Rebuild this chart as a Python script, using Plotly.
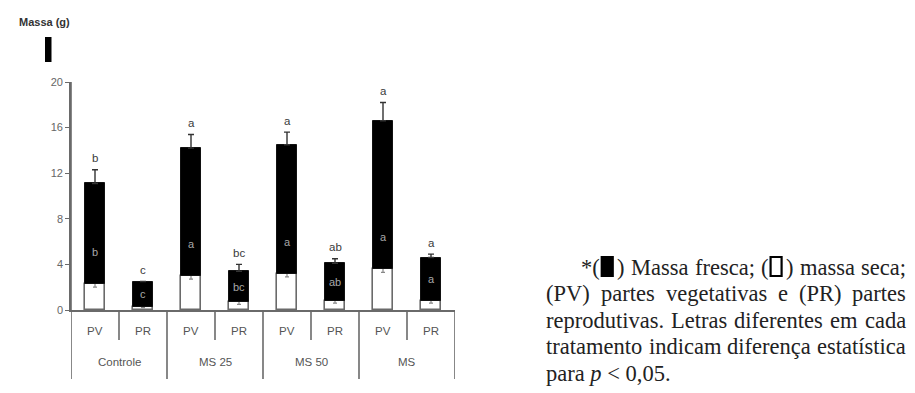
import plotly.graph_objects as go

# Treatments and plant parts
groups = ["Controle", "MS 25", "MS 50", "MS"]
parts = ["PV", "PR"]

# Fresh mass (g) and its standard error, per treatment x part
fresh = [11.1, 2.5, 14.2, 3.4, 14.5, 4.1, 16.6, 4.6]
fresh_err = [1.2, 0.0, 1.2, 0.6, 1.1, 0.4, 1.6, 0.3]
# Dry mass (g) and its standard error
dry = [2.3, 0.3, 3.0, 0.7, 3.2, 0.8, 3.6, 0.8]
dry_err = [0.3, 0.1, 0.3, 0.2, 0.3, 0.2, 0.3, 0.2]
# Significance letters (fresh above the bar, dry inside the black segment)
fresh_letters = ["b", "c", "a", "bc", "a", "ab", "a", "a"]
dry_letters = ["b", "c", "a", "bc", "a", "ab", "a", "a"]

y_ticks = [0, 4, 8, 12, 16, 20]

W_FIG, H_FIG = 915, 393
PX0, PX1 = 71, 455      # plot area, horizontal pixels
PY1, PY0 = 82, 310      # plot area, vertical pixels (top, bottom)

AX = "#6a6a6a"
TXT = "#555555"
SANS = "Liberation Sans"
SERIF = "Liberation Serif"


def px_x(px):
    return (px - PX0) / (PX1 - PX0)


def px_y(py):
    return (PY0 - py) / (PY0 - PY1)


n = len(fresh)
xs = list(range(n))

fig = go.Figure()

# dry mass: white bars from zero
fig.add_trace(go.Bar(
    x=xs, y=dry, width=0.42,
    marker=dict(color="white", line=dict(color=AX, width=1.6)),
    error_y=dict(type="data", array=dry_err, color="#888", thickness=1.2, width=2),
    showlegend=False, hoverinfo="skip",
))

# fresh mass: black segment standing on the dry bar, top at the fresh value
fig.add_trace(go.Bar(
    x=xs, y=[f - d for f, d in zip(fresh, dry)], base=dry, width=0.42,
    marker=dict(color="black", line=dict(color="#111", width=1)),
    error_y=dict(type="data", array=fresh_err, arrayminus=[0] * n, symmetric=False,
                 color="#333", thickness=1.4, width=3),
    showlegend=False, hoverinfo="skip",
))

annotations = []
for i in xs:
    annotations.append(dict(
        x=i, y=fresh[i] + fresh_err[i] + 1.0, xref="x", yref="y",
        text=fresh_letters[i], showarrow=False, yanchor="middle",
        font=dict(family=SANS, size=11.5, color="#3a3a3a"),
    ))
    inner_y = min(dry[i] + 2.8, (dry[i] + fresh[i]) / 2)
    annotations.append(dict(
        x=i, y=inner_y, xref="x", yref="y",
        text=dry_letters[i], showarrow=False, yanchor="middle",
        font=dict(family=SANS, size=11, color="#a8a8a8"),
    ))

# category table under the x axis
shapes = []
row1_bottom = px_y(340)
row2_bottom = px_y(379)
for k in range(n + 1):
    xb = k - 0.5
    if k % 2 == 0:
        y0 = row2_bottom
        y1 = 1 if k == 0 else 0
    else:
        y0 = row1_bottom
        y1 = 0
    shapes.append(dict(type="line", xref="x", yref="paper", x0=xb, x1=xb,
                       y0=y0, y1=y1, line=dict(color=AX, width=1.6)))

for i in xs:
    annotations.append(dict(
        x=i, y=px_y(331), xref="x", yref="paper", text=parts[i % 2],
        showarrow=False, yanchor="middle",
        font=dict(family=SANS, size=11.5, color=TXT),
    ))
for g, name in enumerate(groups):
    annotations.append(dict(
        x=2 * g + 0.5, y=px_y(362), xref="x", yref="paper", text=name,
        showarrow=False, yanchor="middle",
        font=dict(family=SANS, size=11.5, color=TXT),
    ))

# axis title and its key mark
annotations.append(dict(
    x=px_x(44), y=px_y(22), xref="paper", yref="paper", text="<b>Massa (g)</b>",
    showarrow=False, xanchor="center", yanchor="middle",
    font=dict(family=SANS, size=11, color="#333"),
))
shapes.append(dict(type="rect", xref="paper", yref="paper",
                   x0=px_x(45), x1=px_x(51.5), y0=px_y(62), y1=px_y(37),
                   fillcolor="black", line=dict(width=0)))

# caption on the right, justified like a printed paragraph
TIMES_W = {
    " ": 250, "(": 333, ")": 333, "*": 500, ",": 250, ".": 250, ";": 278,
    "<": 564, "0": 500, "5": 500, "L": 611, "M": 889, "P": 556, "R": 667,
    "V": 722, "a": 444, "b": 500, "c": 444, "d": 500, "e": 444, "f": 333,
    "g": 500, "h": 500, "i": 278, "l": 278, "m": 778, "n": 500, "o": 500,
    "p": 500, "r": 333, "s": 389, "t": 278, "u": 500, "v": 500, "ç": 444,
    "í": 278,
}
CAP_SIZE = 22.5
BOX_W = 11
BOX_PAD = 3


def text_w(s):
    return sum(TIMES_W.get(ch, 500) for ch in s) * CAP_SIZE / 1000


def part_w(p):
    kind, val = p
    return BOX_W + 2 * BOX_PAD if kind == "box" else text_w(val)


caption_lines = [
    [[("t", "*("), ("box", "black"), ("t", ")")], [("t", "Massa")], [("t", "fresca;")],
     [("t", "("), ("box", "white"), ("t", ")")], [("t", "massa")], [("t", "seca;")]],
    [[("t", w)] for w in "(PV) partes vegetativas e (PR) partes".split()],
    [[("t", w)] for w in "reprodutivas. Letras diferentes em cada".split()],
    [[("t", w)] for w in "tratamento indicam diferença estatística".split()],
]
line_start = [580, 545, 545, 545]
line_end = 905
line_y = [267, 293.5, 320, 346.5, 373]

for li, words in enumerate(caption_lines):
    widths = [sum(part_w(p) for p in w) for w in words]
    gap = (line_end - line_start[li] - sum(widths)) / (len(words) - 1)
    xcur = line_start[li]
    for w, ww in zip(words, widths):
        xp = xcur
        for kind, val in w:
            if kind == "box":
                shapes.append(dict(
                    type="rect", xref="paper", yref="paper",
                    x0=px_x(xp + BOX_PAD), x1=px_x(xp + BOX_PAD + BOX_W),
                    y0=px_y(line_y[li] + 9), y1=px_y(line_y[li] - 10),
                    fillcolor=val, line=dict(color="black", width=2.2)))
                xp += BOX_W + 2 * BOX_PAD
            else:
                annotations.append(dict(
                    x=px_x(xp), y=px_y(line_y[li]), xref="paper", yref="paper",
                    text=val, showarrow=False, xanchor="left", yanchor="middle",
                    borderpad=0, font=dict(family=SERIF, size=CAP_SIZE, color="#222"),
                ))
                xp += text_w(val)
        xcur += ww + gap

annotations.append(dict(
    x=px_x(545), y=px_y(line_y[4]), xref="paper", yref="paper",
    text="para <i>p</i> &lt; 0,05.", showarrow=False, xanchor="left", yanchor="middle",
    borderpad=0, font=dict(family=SERIF, size=CAP_SIZE, color="#222"),
))

fig.update_layout(
    width=W_FIG, height=H_FIG,
    margin=dict(l=PX0, r=W_FIG - PX1, t=PY1, b=H_FIG - PY0, pad=0),
    paper_bgcolor="white", plot_bgcolor="white",
    barmode="overlay", bargap=0,
    font=dict(family=SANS, color=TXT),
    xaxis=dict(range=[-0.5, n - 0.5], showline=True, linecolor=AX, linewidth=1.6,
               showticklabels=False, ticks="", showgrid=False, zeroline=False,
               fixedrange=True),
    yaxis=dict(range=[0, 20], tickvals=y_ticks, ticktext=[str(v) for v in y_ticks],
               showline=True, linecolor=AX, linewidth=1.6, ticks="outside",
               ticklen=4, tickwidth=1.4, tickcolor=AX, showgrid=False, zeroline=False,
               tickfont=dict(family=SANS, size=11, color="#666"), fixedrange=True),
    annotations=annotations,
    shapes=shapes,
)

fig.write_html("out.html", config={"displayModeBar": False})
